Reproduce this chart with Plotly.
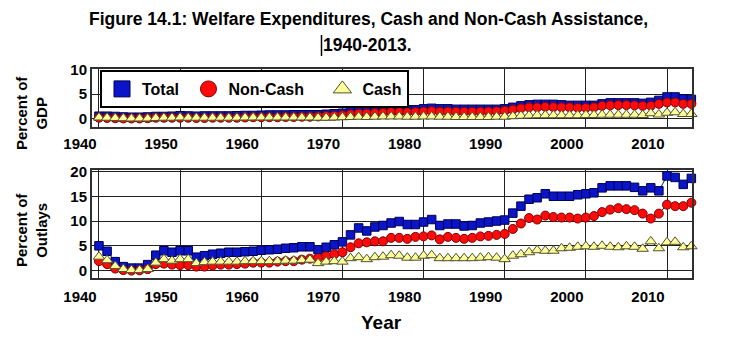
import plotly.graph_objects as go

years = list(range(1940, 2014))
tick_years = [1940, 1950, 1960, 1970, 1980, 1990, 2000, 2010]

# Percent of Outlays (bottom panel)
total_outlays = [
    5.0, 3.9, 1.8, 0.8, 0.5, 0.5, 1.2, 3.1, 4.0, 3.7,
    4.0, 4.0, 2.7, 3.0, 3.3, 3.5, 3.7, 3.7, 3.8, 3.9,
    4.1, 4.2, 4.3, 4.5, 4.6, 4.8, 4.8, 4.2, 4.7, 5.2,
    5.8, 7.2, 8.6, 8.0, 8.8, 9.1, 9.6, 9.9, 9.3, 9.3,
    9.8, 10.3, 9.1, 9.4, 9.4, 9.0, 9.1, 9.6, 9.8, 10.0,
    10.2, 11.6, 13.0, 14.4, 14.7, 15.5, 15.0, 15.0, 15.0, 15.3,
    15.5, 15.7, 16.7, 17.1, 17.1, 17.1, 16.8, 16.1, 16.7, 16.1,
    19.1, 18.8, 17.4, 18.6]
noncash_outlays = [
    1.9, 1.3, 0.4, 0.1, 0.0, 0.05, 0.3, 1.3, 1.4, 1.2,
    1.1, 1.1, 0.8, 0.8, 1.0, 1.2, 1.2, 1.3, 1.4, 1.6,
    1.6, 1.6, 1.8, 1.9, 1.9, 2.2, 2.4, 2.5, 2.9, 3.3,
    3.7, 4.7, 5.5, 5.7, 5.9, 5.9, 6.6, 6.6, 6.4, 6.8,
    6.9, 7.1, 6.3, 6.8, 6.6, 6.4, 6.6, 6.9, 7.0, 7.2,
    7.4, 8.4, 9.5, 10.6, 10.3, 11.1, 10.8, 10.7, 10.7, 10.5,
    10.7, 11.0, 11.8, 12.3, 12.6, 12.4, 12.2, 11.5, 10.5, 11.5,
    13.3, 13.0, 13.0, 13.7]
cash_outlays = [
    2.8, 2.1, 0.9, 0.3, 0.1, 0.1, 0.3, 1.6, 2.3, 2.0,
    2.3, 2.3, 1.5, 1.7, 1.8, 1.8, 1.8, 1.8, 1.9, 1.9,
    1.9, 1.9, 1.9, 2.0, 2.0, 2.1, 2.2, 1.5, 1.8, 1.9,
    1.8, 2.5, 2.7, 2.3, 2.7, 2.8, 3.1, 3.0, 2.6, 2.6,
    3.0, 3.1, 2.5, 2.5, 2.5, 2.5, 2.5, 2.6, 2.7, 2.6,
    2.3, 3.0, 3.3, 3.7, 4.1, 4.0, 4.0, 4.5, 4.6, 4.8,
    4.9, 4.8, 5.0, 4.8, 4.7, 4.9, 4.8, 4.4, 5.9, 4.5,
    5.7, 5.8, 4.7, 4.9]

# Percent of GDP (top panel)
total_gdp = [
    0.5, 0.5, 0.45, 0.35, 0.3, 0.3, 0.35, 0.45, 0.45, 0.5,
    0.6, 0.55, 0.5, 0.55, 0.55, 0.55, 0.55, 0.6, 0.65, 0.65,
    0.7, 0.75, 0.75, 0.75, 0.8, 0.8, 0.8, 0.8, 0.9, 1.0,
    1.1, 1.4, 1.6, 1.5, 1.7, 1.8, 1.9, 1.9, 1.8, 1.8,
    2.0, 2.1, 2.0, 2.0, 1.9, 1.9, 1.9, 1.9, 1.9, 1.9,
    2.0, 2.3, 2.6, 2.8, 2.9, 2.9, 2.9, 2.8, 2.7, 2.7,
    2.7, 2.7, 3.0, 3.2, 3.2, 3.2, 3.2, 3.1, 3.3, 3.7,
    4.4, 4.4, 4.0, 3.9]
noncash_gdp = [
    0.2, 0.15, 0.1, 0.05, 0.05, 0.05, 0.1, 0.2, 0.2, 0.2,
    0.2, 0.2, 0.15, 0.15, 0.2, 0.2, 0.2, 0.2, 0.25, 0.3,
    0.3, 0.3, 0.3, 0.35, 0.35, 0.4, 0.4, 0.45, 0.55, 0.6,
    0.7, 0.9, 1.05, 1.05, 1.15, 1.2, 1.35, 1.35, 1.3, 1.35,
    1.45, 1.55, 1.4, 1.45, 1.4, 1.4, 1.4, 1.4, 1.45, 1.5,
    1.6, 1.85, 2.1, 2.3, 2.3, 2.4, 2.35, 2.3, 2.3, 2.2,
    2.2, 2.3, 2.6, 2.7, 2.75, 2.75, 2.7, 2.6, 2.6, 3.0,
    3.3, 3.3, 3.0, 3.0]
cash_gdp = [
    0.25, 0.2, 0.15, 0.1, 0.05, 0.05, 0.05, 0.15, 0.2, 0.2,
    0.25, 0.2, 0.2, 0.2, 0.2, 0.2, 0.2, 0.2, 0.25, 0.25,
    0.25, 0.25, 0.25, 0.25, 0.25, 0.25, 0.25, 0.2, 0.2, 0.25,
    0.3, 0.35, 0.4, 0.35, 0.4, 0.45, 0.45, 0.45, 0.4, 0.4,
    0.45, 0.45, 0.4, 0.4, 0.35, 0.35, 0.35, 0.35, 0.35, 0.4,
    0.4, 0.5, 0.6, 0.65, 0.7, 0.7, 0.7, 0.7, 0.7, 0.7,
    0.75, 0.75, 0.8, 0.8, 0.8, 0.8, 0.8, 0.75, 1.1, 0.85,
    1.2, 1.3, 0.95, 0.95]

series_names = ["Total", "Non-Cash", "Cash"]

FONT = "Liberation Sans, Arial, sans-serif"
W, H = 731, 341
L, R, T, B = 92, 39, 69, 63
PW, PH = W - L - R, H - T - B


def px_x(p):
    return (p - L) / PW


def px_y(p):
    return (H - B - p) / PH


styles = [
    dict(symbol="square", size=8.5, color="#0A14C8", line=dict(color="#000050", width=1)),
    dict(symbol="circle", size=9, color="#FF0A0A", line=dict(color="#800000", width=1)),
    dict(symbol="triangle-up", size=10, color="#FFFF99", line=dict(color="#505030", width=1)),
]

fig = go.Figure()

top_data = [total_gdp, noncash_gdp, cash_gdp]
bot_data = [total_outlays, noncash_outlays, cash_outlays]

for name, vals, st in zip(series_names, top_data, styles):
    fig.add_trace(go.Scatter(
        x=years, y=vals, name=name, mode="lines+markers",
        line=dict(color="#202020", width=1), marker=st,
        xaxis="x2", yaxis="y2", showlegend=False, cliponaxis=False))

for name, vals, st in zip(series_names, bot_data, styles):
    fig.add_trace(go.Scatter(
        x=years, y=vals, name=name, mode="lines+markers",
        line=dict(color="#202020", width=1), marker=st,
        xaxis="x", yaxis="y", showlegend=False, cliponaxis=False))

# legend-only entries with larger symbols
legend_names = ["Total\u00a0", "Non-Cash\u00a0\u00a0\u00a0", "Cash"]
for name, st in zip(legend_names, styles):
    big = dict(st)
    big["size"] = 20
    fig.add_trace(go.Scatter(
        x=[None], y=[None], name=name, mode="markers", marker=big,
        xaxis="x2", yaxis="y2", showlegend=True))

xr = [1939.14, 2013.08]
axis_common = dict(
    showgrid=True, gridcolor="#202020", gridwidth=1,
    showline=True, linecolor="#303030", linewidth=2, mirror=True,
    zeroline=False, ticks="",
    tickfont=dict(family=FONT, size=15, color="#000000", weight="bold"),
)

fig.update_layout(
    width=W, height=H,
    margin=dict(l=L, r=R, t=T, b=B, pad=0),
    paper_bgcolor="white", plot_bgcolor="white",
    showlegend=True,
    xaxis=dict(domain=[0, 1], anchor="y", range=xr, tickvals=tick_years,
               ticklabelshift=-19, ticklabelstandoff=4, **axis_common),
    yaxis=dict(domain=[0, px_y(170)], anchor="x", range=[-1.5, 20.3],
               tickvals=[0, 5, 10, 15, 20], **axis_common),
    xaxis2=dict(domain=[0, 1], anchor="y2", range=xr, tickvals=tick_years,
                ticklabelshift=-19, ticklabelstandoff=2, **axis_common),
    yaxis2=dict(domain=[px_y(126.7), 1], anchor="x2", range=[-1.62, 10.06],
                tickvals=[0, 5, 10], **axis_common),
    legend=dict(
        orientation="h", x=px_x(100), y=px_y(70), xanchor="left", yanchor="top",
        xref="paper", yref="paper",
        bgcolor="white", bordercolor="#000000", borderwidth=2,
        font=dict(family=FONT, size=16, color="#000000", weight="bold"),
        itemclick=False, itemdoubleclick=False,
    ),
    annotations=[
        dict(text="Figure 14.1: Welfare Expenditures, Cash and Non-Cash Assistance,",
             x=px_x(368), y=px_y(19), xref="paper", yref="paper",
             xanchor="center", yanchor="middle", showarrow=False,
             font=dict(family=FONT, size=17.5, color="#000000", weight="bold")),
        dict(text="1940-2013.",
             x=px_x(367), y=px_y(45), xref="paper", yref="paper",
             xanchor="center", yanchor="middle", showarrow=False,
             font=dict(family=FONT, size=17.5, color="#000000", weight="bold")),
        dict(text="Percent of<br>GDP", textangle=-90,
             x=px_x(31), y=px_y(113), xref="paper", yref="paper",
             xanchor="center", yanchor="middle", showarrow=False,
             font=dict(family=FONT, size=15, color="#000000", weight="bold")),
        dict(text="Percent of<br>Outlays", textangle=-90,
             x=px_x(31), y=px_y(230), xref="paper", yref="paper",
             xanchor="center", yanchor="middle", showarrow=False,
             font=dict(family=FONT, size=15, color="#000000", weight="bold")),
        dict(text="Year",
             x=px_x(381), y=px_y(322), xref="paper", yref="paper",
             xanchor="center", yanchor="middle", showarrow=False,
             font=dict(family=FONT, size=19, color="#000000", weight="bold")),
    ],
    shapes=[
        dict(type="line", xref="paper", yref="paper",
             x0=px_x(321.5), x1=px_x(321.5), y0=px_y(35), y1=px_y(56),
             line=dict(color="#000000", width=1.5)),
    ],
)

fig.write_html("out.html")
